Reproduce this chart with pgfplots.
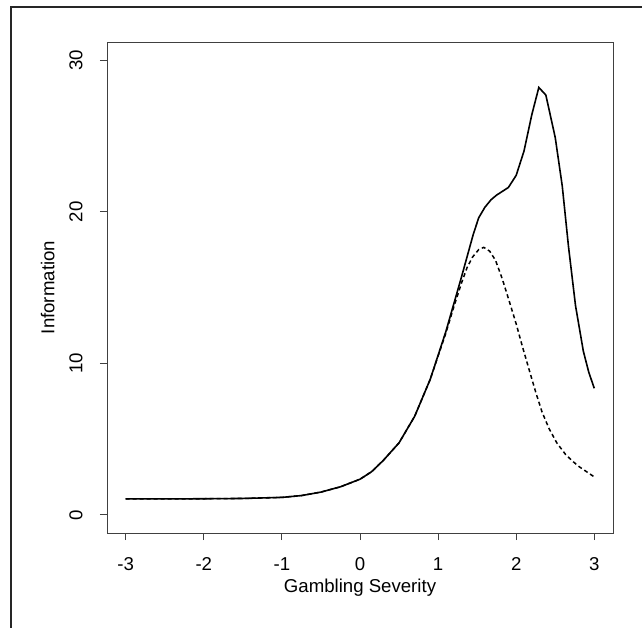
\documentclass[border=0pt]{standalone}
\usepackage{pgfplots}
\pgfplotsset{compat=1.18}
\usepackage{fontspec}
\setmainfont{Liberation Sans}
\begin{document}
\begin{tikzpicture}
\path[use as bounding box] (0bp,0bp) rectangle (642bp,-628bp);
\draw[line width=1.2bp, black!85] (11bp,-628bp) -- (11bp,-7bp) -- (642bp,-7bp);
\begin{axis}[
    at={(107bp,-533bp)}, anchor=south west,
    scale only axis, width=506bp, height=491bp,
    xmin=-3.24, xmax=3.24, ymin=-1.2, ymax=31.2,
    xtick={-3,-2,...,3}, ytick={0,10,20,30},
    axis line style={black!75, line width=0.9bp},
    tick style={black!75, line width=0.9bp},
    tick align=outside, major tick length=7bp,
    xtick pos=bottom, ytick pos=left,
    font=\fontsize{18.7}{22}\selectfont,
    /pgf/number format/assume math mode=true,
    yticklabel style={rotate=90, anchor=south, yshift=14bp},
    xticklabel style={yshift=-14bp},
    xlabel={Gambling Severity}, ylabel={Information},
    xlabel style={yshift=-1bp},
    ylabel style={yshift=8bp},
    clip=false,
]
\addplot[black, line width=1.6bp] coordinates {
    (-3,1.05) (-2.5,1.05) (-2,1.06) (-1.5,1.08) (-1.0,1.15) (-0.75,1.27)
    (-0.5,1.5) (-0.25,1.85) (0,2.35) (0.15,2.85) (0.3,3.6) (0.5,4.75) (0.7,6.5)
    (0.9,8.95) (1.1,12.1) (1.3,15.7) (1.45,18.5) (1.52,19.6) (1.6,20.3)
    (1.68,20.8) (1.75,21.1) (1.9,21.6) (2.0,22.4) (2.1,24.0) (2.2,26.4)
    (2.29,28.2) (2.38,27.7) (2.5,24.9) (2.59,21.7) (2.67,17.7) (2.76,13.8)
    (2.86,10.8) (2.93,9.4) (3.0,8.35)
};
\addplot[black, line width=1.5bp, dash pattern=on 4bp off 3bp] coordinates {
    (-3,1.05) (-2.5,1.05) (-2,1.06) (-1.5,1.08) (-1.0,1.15) (-0.75,1.27)
    (-0.5,1.5) (-0.25,1.85) (0,2.35) (0.15,2.85) (0.3,3.6) (0.5,4.75) (0.7,6.5)
    (0.9,8.95) (1.1,12.0) (1.2,13.7) (1.3,15.3) (1.37,16.3) (1.44,17.0)
    (1.52,17.5) (1.585,17.65) (1.66,17.4) (1.735,16.8) (1.82,15.6)
    (1.905,14.2) (2.0,12.6) (2.08,11.1) (2.17,9.5) (2.25,8.1) (2.33,6.8)
    (2.42,5.7) (2.52,4.75) (2.63,4.0) (2.72,3.55) (2.8,3.2) (2.9,2.85)
    (3.0,2.5)
};
\end{axis}
\end{tikzpicture}
\end{document}
